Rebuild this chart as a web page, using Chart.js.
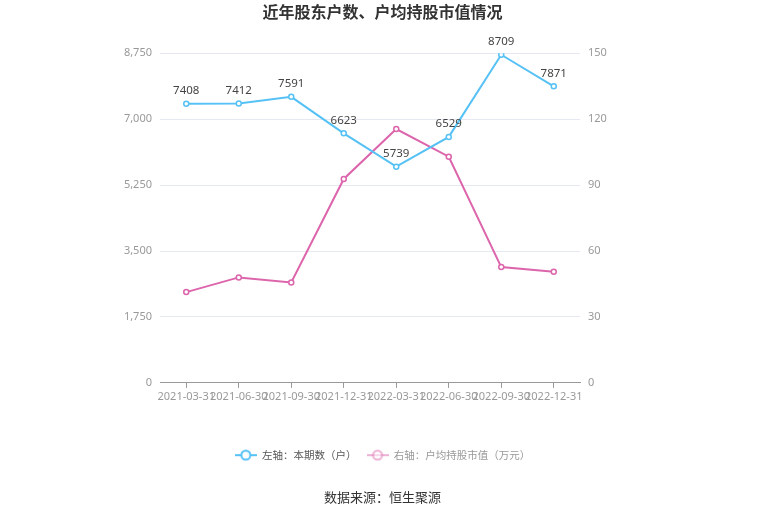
<!DOCTYPE html>
<html>
<head>
<meta charset="utf-8">
<script src="https://cdn.jsdelivr.net/npm/chart.js@4/dist/chart.umd.min.js"></script>
<style>
  html, body { margin: 0; padding: 0; background: #fff; }
  #wrap { width: 765px; height: 517px; }
</style>
</head>
<body>
<div id="wrap"><canvas id="chart" width="765" height="517"></canvas></div>
<script>
// data
const categories = ["2021-03-31", "2021-06-30", "2021-09-30", "2021-12-31", "2022-03-31", "2022-06-30", "2022-09-30", "2022-12-31"];
const holders = [7408, 7412, 7591, 6623, 5739, 6529, 8709, 7871];
const avgValue = [41.3, 48.0, 45.7, 92.8, 115.5, 102.9, 52.7, 50.6];
const leftTicks = [0, 1750, 3500, 5250, 7000, 8750];
const rightTicks = [0, 30, 60, 90, 120, 150];

const BLUE = "#56c1f5";
const PINK = "#dc65ac";
const FONT = "'Noto Sans', 'Noto Sans CJK SC', sans-serif";
const CJK = "'Noto Sans CJK SC', sans-serif";

// legend marker: short line with hollow circle
function makeMarker(color, alpha) {
  const c = document.createElement("canvas");
  c.width = 22;
  c.height = 12;
  const g = c.getContext("2d");
  g.globalAlpha = alpha;
  g.strokeStyle = color;
  g.lineWidth = 2;
  g.beginPath();
  g.moveTo(0, 6);
  g.lineTo(22, 6);
  g.stroke();
  g.beginPath();
  g.arc(11, 6, 4.5, 0, Math.PI * 2);
  g.fillStyle = "#fff";
  g.fill();
  g.stroke();
  return c;
}

const valueLabels = {
  id: "valueLabels",
  afterDatasetsDraw(chart) {
    const ctx = chart.ctx;
    const meta = chart.getDatasetMeta(0);
    ctx.save();
    ctx.font = "11.5px " + FONT;
    ctx.fillStyle = "#444";
    ctx.textAlign = "center";
    ctx.textBaseline = "middle";
    meta.data.forEach((pt, i) => {
      ctx.fillText(String(holders[i]), pt.x, pt.y - 13);
    });
    ctx.restore();
  },
};

new Chart(document.getElementById("chart"), {
  type: "line",
  data: {
    labels: categories,
    datasets: [
      {
        label: "左轴：本期数（户）",
        data: holders,
        yAxisID: "y",
        borderColor: BLUE,
        backgroundColor: "#fff",
        borderWidth: 2,
        pointRadius: 2.5,
        pointBorderWidth: 1.5,
        pointBackgroundColor: "#fff",
        pointBorderColor: BLUE,
        tension: 0,
      },
      {
        label: "右轴：户均持股市值（万元）",
        data: avgValue,
        yAxisID: "y1",
        borderColor: PINK,
        backgroundColor: "#fff",
        borderWidth: 2,
        pointRadius: 2.5,
        pointBorderWidth: 1.5,
        pointBackgroundColor: "#fff",
        pointBorderColor: PINK,
        tension: 0,
      },
    ],
  },
  options: {
    responsive: false,
    animation: false,
    layout: { padding: 0 },
    plugins: {
      title: {
        display: true,
        text: "近年股东户数、户均持股市值情况",
        color: "#333",
        font: { family: CJK, size: 16, weight: "bold" },
        padding: { top: 2, bottom: 32 },
      },
      subtitle: {
        display: true,
        position: "bottom",
        text: "数据来源：恒生聚源",
        color: "#333",
        font: { family: CJK, size: 13 },
        padding: { top: 19, bottom: 12 },
      },
      legend: {
        position: "bottom",
        labels: {
          usePointStyle: true,
          pointStyleWidth: 22,
          boxHeight: 12,
          padding: 10,
          font: { family: CJK, size: 10.5 },
          generateLabels(chart) {
            return [
              { text: "左轴：本期数（户）", pointStyle: makeMarker(BLUE, 1), fontColor: "#555", datasetIndex: 0, lineWidth: 0, strokeStyle: "transparent", fillStyle: "transparent" },
              { text: "右轴：户均持股市值（万元）", pointStyle: makeMarker(PINK, 0.5), fontColor: "#999", datasetIndex: 1, lineWidth: 0, strokeStyle: "transparent", fillStyle: "transparent" },
            ];
          },
        },
      },
      tooltip: { enabled: false },
    },
    scales: {
      x: {
        offset: true,
        grid: {
          offset: false,
          drawOnChartArea: false,
          drawTicks: true,
          tickLength: 5,
          color: "#999",
        },
        border: { display: true, color: "#999", width: 1 },
        ticks: {
          autoSkip: false,
          maxRotation: 0,
          minRotation: 0,
          padding: 2,
          color: "#999",
          font: { family: FONT, size: 11 },
        },
        afterFit(scale) { scale.height = 57; },
      },
      y: {
        position: "left",
        min: 0,
        max: 8750,
        afterBuildTicks(scale) { scale.ticks = leftTicks.map((v) => ({ value: v })); },
        grid: { color: "#e6e8f2", drawTicks: false },
        border: { display: false },
        ticks: {
          padding: 8,
          color: "#999",
          font: { family: FONT, size: 11 },
          callback: (v) => v.toLocaleString("en-US"),
        },
        afterFit(scale) { scale.width = 160; },
      },
      y1: {
        position: "right",
        min: 0,
        max: 150,
        afterBuildTicks(scale) { scale.ticks = rightTicks.map((v) => ({ value: v })); },
        grid: { drawOnChartArea: false, drawTicks: false },
        border: { display: false },
        ticks: {
          padding: 8,
          color: "#999",
          font: { family: FONT, size: 11 },
        },
        afterFit(scale) { scale.width = 185; },
      },
    },
  },
  plugins: [valueLabels],
});
</script>
</body>
</html>
